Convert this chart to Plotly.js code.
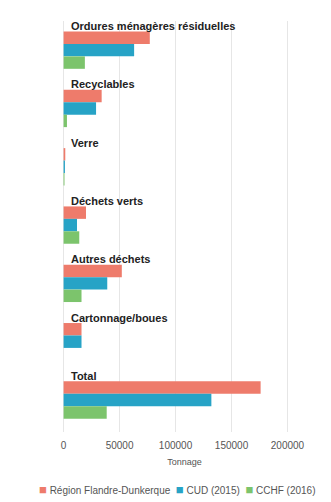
<!DOCTYPE html>
<html>
<head>
<meta charset="utf-8">
<script src="https://cdn.plot.ly/plotly-3.0.1.min.js"></script>
<style>html,body{margin:0;padding:0;background:#fff;}#chart{width:331px;height:502px;}</style>
</head>
<body>
<div id="chart"></div>
<script>
const categories = ["Ordures ménagères résiduelles", "Recyclables", "Verre", "Déchets verts", "Autres déchets", "Cartonnage/boues", "Total"];
const seriesNames = ["Région Flandre-Dunkerque", "CUD (2015)", "CCHF (2016)"];
const regionValues = [77000, 34000, 1500, 20000, 52000, 16000, 176000];
const cudValues = [63000, 29000, 1200, 12000, 39000, 16000, 132000];
const cchfValues = [19000, 3000, 800, 14000, 16000, 0, 38500];
const xTicks = [0, 50000, 100000, 150000, 200000];

const colors = ["#ee7b6b", "#27a3c6", "#7cc46c"];
const allValues = [regionValues, cudValues, cchfValues];
const FONT = "Liberation Sans, Arial, sans-serif";

const traces = allValues.map((vals, i) => ({
  type: "bar",
  orientation: "h",
  name: seriesNames[i],
  y: categories,
  x: vals,
  marker: {color: colors[i]},
  hoverinfo: "x+name"
}));

const annotations = categories.map(c => ({
  x: 0, xref: "x", y: c, yref: "y",
  text: "<b>" + c + "</b>",
  showarrow: false,
  xanchor: "left", yanchor: "middle",
  xshift: 5, yshift: 24,
  font: {family: FONT, size: 11, color: "#222"}
}));

// legend drawn as a single text line (the built-in one wraps at this width)
const legendText = seriesNames.map((n, i) =>
  "<span style='color:" + colors[i] + ";font-size:13px'>■</span> " + n).join("  ");
annotations.push({
  x: 0.47, xref: "paper", xanchor: "center",
  y: 0, yref: "paper", yanchor: "middle", yshift: -57,
  text: legendText, showarrow: false,
  font: {family: FONT, size: 10, color: "#555"}
});

const layout = {
  width: 331, height: 502,
  margin: {l: 58, r: 20, t: 21, b: 70},
  paper_bgcolor: "#fff",
  plot_bgcolor: "#fff",
  barmode: "group",
  bargap: 0.36,
  bargroupgap: 0,
  showlegend: false,
  xaxis: {
    range: [-5000, 221000],
    tickvals: xTicks,
    ticktext: xTicks.map(String),
    showgrid: true, gridcolor: "#e6e6e6", gridwidth: 1,
    zeroline: false,
    showline: false,
    ticks: "",
    ticklabelstandoff: 6,
    tickfont: {family: FONT, size: 10, color: "#555"},
    title: {text: "Tonnage", font: {family: FONT, size: 9, color: "#555"}, standoff: 8}
  },
  yaxis: {
    type: "category",
    autorange: "reversed",
    showticklabels: false,
    showgrid: false,
    zeroline: false,
    showline: false,
    ticks: ""
  },
  annotations: annotations
};

Plotly.newPlot("chart", traces, layout, {displayModeBar: false, staticPlot: true});
</script>
</body>
</html>
